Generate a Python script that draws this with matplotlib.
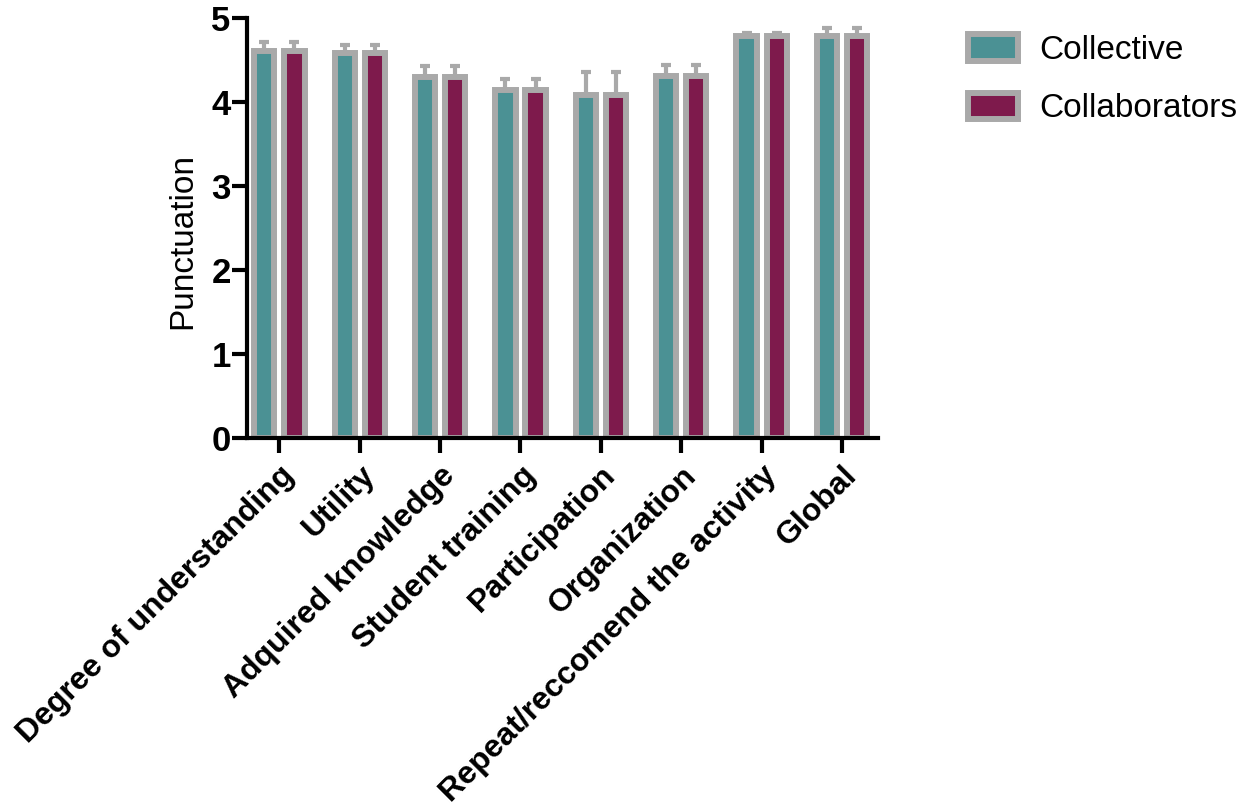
import numpy as np
import matplotlib
matplotlib.use("Agg")
import matplotlib.pyplot as plt
import matplotlib.transforms as mtransforms

plt.rcParams['font.family'] = ['Liberation Sans', 'DejaVu Sans']

categories = ["Degree of understanding", "Utility", "Adquired knowledge",
              "Student training", "Participation", "Organization",
              "Repeat/reccomend the activity", "Global"]
collective = [4.60, 4.58, 4.30, 4.14, 4.08, 4.31, 4.78, 4.78]
collective_err = [0.11, 0.10, 0.13, 0.13, 0.28, 0.13, 0.04, 0.10]
collaborators = [4.60, 4.58, 4.30, 4.14, 4.08, 4.31, 4.78, 4.78]
collaborators_err = [0.11, 0.10, 0.13, 0.13, 0.28, 0.13, 0.04, 0.10]

teal = '#4b9194'
maroon = '#7e1a4c'
grey = '#a9a9a9'

fig = plt.figure(figsize=(12.49, 8.10), dpi=100)
ax = fig.add_axes([0.198, 0.459, 0.505, 0.519])

x = np.arange(len(categories))
w = 0.25
off = 0.187
err_kw = dict(ecolor=grey, elinewidth=3, capsize=3.5, capthick=3)
ax.bar(x - off, collective, w, color=teal, edgecolor=grey, linewidth=4.3,
       yerr=[np.zeros(len(x)), collective_err], error_kw=err_kw, label='Collective')
ax.bar(x + off, collaborators, w, color=maroon, edgecolor=grey, linewidth=4.3,
       yerr=[np.zeros(len(x)), collaborators_err], error_kw=err_kw, label='Collaborators')

ax.set_xlim(-0.4, 7.45)
ax.set_ylim(0, 5)
ax.set_yticks([0, 1, 2, 3, 4, 5])
ax.set_xticks(x)
ax.set_xticklabels(categories, rotation=45, ha='right', rotation_mode='anchor',
                   fontsize=23, fontweight='bold')
# nudge the slanted labels a little to the left
shift = mtransforms.ScaledTranslation(-9 / 100, 0, fig.dpi_scale_trans)
for lab in ax.get_xticklabels():
    lab.set_transform(lab.get_transform() + shift)
for lab in ax.get_yticklabels():
    lab.set_fontsize(25)
    lab.set_fontweight('bold')

ax.spines['top'].set_visible(False)
ax.spines['right'].set_visible(False)
ax.spines['left'].set_linewidth(3)
ax.spines['bottom'].set_linewidth(3)
ax.tick_params(axis='both', width=3, length=11, direction='out')
ax.tick_params(axis='y', pad=1)
ax.tick_params(axis='x', pad=5)
ax.set_ylabel('Punctuation', fontsize=24)
ax.yaxis.set_label_coords(-0.078, 0.47)

fig.legend(loc='upper left', bbox_to_anchor=(968 / 1249, 1 - 34 / 810), frameon=False,
           fontsize=24, handlelength=1.5, handleheight=0.85, labelspacing=0.8,
           handletextpad=0.65, borderpad=0, borderaxespad=0)

fig.savefig('out.png', dpi=100)
